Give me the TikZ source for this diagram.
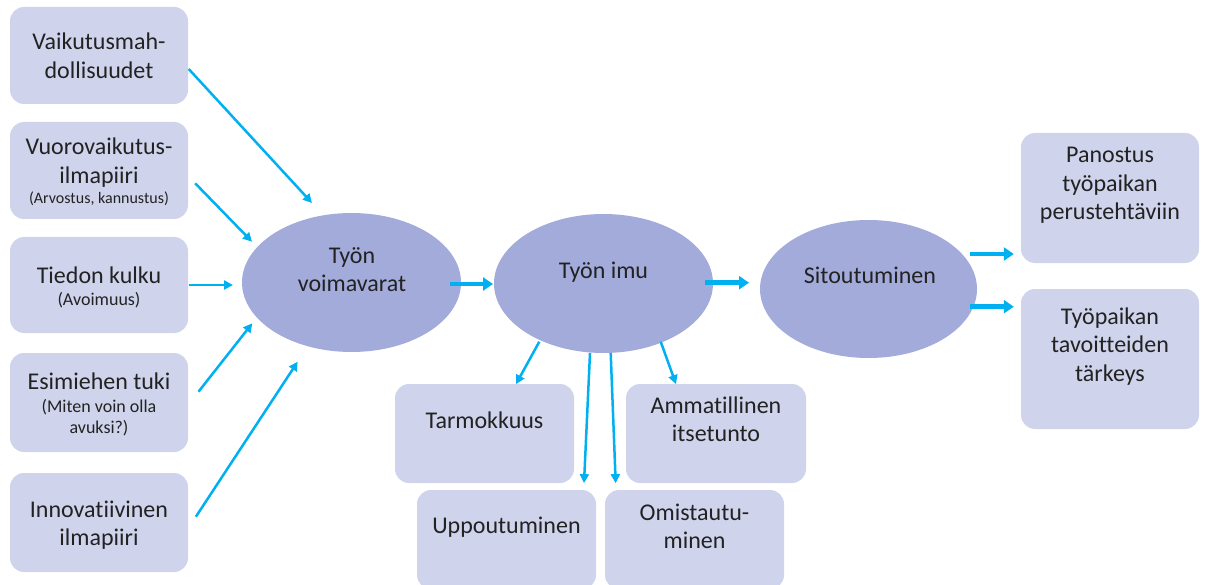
\documentclass[tikz,border=0pt]{standalone}
\usepackage{fontspec}
\setmainfont{Carlito}[Ligatures={NoCommon}]
\usetikzlibrary{arrows.meta,calc,shapes.geometric}

\definecolor{boxfill}{HTML}{CFD4EC}
\definecolor{ovalfill}{HTML}{A3ABDB}
\definecolor{arrowc}{HTML}{00B0F0}
\definecolor{txtc}{HTML}{222222}

\newcommand{\smalltxt}{\fontsize{16}{21}\selectfont}
\newcommand{\notetxt}{\fontsize{18}{22}\selectfont}

\tikzset{
  card/.style={fill=boxfill, draw=none, rounded corners=14pt, inner sep=0pt,
    minimum width=178pt},
  oval/.style={ellipse, fill=ovalfill, draw=none, inner sep=0pt,
    minimum width=219pt, minimum height=139pt},
  label/.style={anchor=base, inner sep=0pt, text=txtc,
    font=\fontsize{24}{28.5}\selectfont},
  thin arrow/.style={draw=arrowc, line width=2.5pt,
    -{Triangle[length=9pt,width=9pt]}},
  thick arrow/.style={draw=arrowc, line width=4.5pt,
    -{Triangle[length=10pt,width=13pt]}},
}

\newcommand{\lines}[1]{\begin{tabular}[t]{@{}c@{}}#1\end{tabular}}

\begin{document}
\begin{tikzpicture}[x=1pt,y=-1pt]
\useasboundingbox (0,0) rectangle (1206,585);

% left column: resources
\node[card, minimum height=97pt] (L1) at (99,55.5) {};
\node[card, minimum height=97pt] (L2) at (99,170.5) {};
\node[card, minimum height=96pt] (L3) at (99,285) {};
\node[card, minimum height=99pt] (L4) at (99,402.5) {};
\node[card, minimum height=99pt] (L5) at (99,522.5) {};

\node[label] (t1) at (99,50) {\lines{Vaikutusmah-\\dollisuudet}};
\node[label] (t2) at (99,155) {\lines{Vuorovaikutus-\\ilmapiiri\\[-8.5pt]{\smalltxt (Arvostus, kannustus)}}};
\node[label] (t3) at (99,283) {\lines{Tiedon kulku\\[-6.5pt]{\notetxt (Avoimuus)}}};
\node[label] (t4) at (99,389) {\lines{Esimiehen tuki\\[-5.5pt]{\notetxt (Miten voin olla}\\[-7.5pt]{\notetxt avuksi?)}}};
\node[label] (t5) at (99,517) {\lines{Innovatiivinen\\ilmapiiri}};

% the three ovals
\node[oval] (E1) at (351.5,282.5) {};
\node[oval] (E2) at (603.5,283.5) {};
\node[oval, minimum width=217pt, minimum height=138pt] (E3) at (868.5,289) {};

\node[label] (e1t) at (352,263) {\lines{Työn\\voimavarat}};
\node[label] (e2t) at (603.5,278) {Työn imu};
\node[label] (e3t) at (870,283) {Sitoutuminen};

% right column: commitment outcomes
\node[card, minimum height=130pt] (R1) at (1110,198) {};
\node[card, minimum height=140pt] (R2) at (1110,359) {};
\node[label] (r1t) at (1110,163) {\lines{Panostus\\työpaikan\\perustehtäviin}};
\node[label] (r2t) at (1110,324) {\lines{Työpaikan\\tavoitteiden\\tärkeys}};

% bottom row: work engagement components
\node[card, minimum width=179pt, minimum height=99pt] (T) at (484.5,433.5) {};
\node[card, minimum width=180pt, minimum height=99pt] (A) at (716,433.5) {};
\node[card, minimum width=179pt, minimum height=99pt] (U) at (506.5,539.5) {};
\node[card, minimum width=179pt, minimum height=99pt] (O) at (694.5,539.5) {};

\node[label] (tt) at (484.5,428) {Tarmokkuus};
\node[label] (at) at (716,413) {\lines{Ammatillinen\\itsetunto}};
\node[label] (ut) at (506.5,533) {Uppoutuminen};
\node[label] (ot) at (694.5,520) {\lines{Omistautu-\\minen}};

% connectors into the first oval
\draw[thin arrow] ($(L1.east)+(0.5,13.5)$) -- ($(E1.center)+(-39.5,-79.5)$);
\draw[thin arrow] ($(L2.east)+(7,12.8)$) -- ($(E1.center)+(-99.5,-40.8)$);
\draw[thin arrow] ($(L3.east)+(0.5,0)$) -- ($(E1.center)+(-118.5,2.5)$);
\draw[thin arrow] ($(L4.east)+(10.3,-10.8)$) -- ($(E1.center)+(-99.2,40.8)$);
\draw[thin arrow] ($(L5.east)+(7.7,-5.8)$) -- ($(E1.center)+(-53.8,79.2)$);

% main chain
\draw[thick arrow] ($(E1.center)+(98.5,1.5)$) -- ($(E2.center)+(-110.5,0.5)$);
\draw[thick arrow] ($(E2.center)+(101.5,-0.8)$) -- ($(E3.center)+(-119.5,-6.3)$);
\draw[thick arrow] ($(E3.center)+(101.5,-35)$) -- ($(R1.west)+(-7,56)$);
\draw[thick arrow] ($(E3.center)+(101.5,17.7)$) -- ($(R2.west)+(-7,-52.3)$);

% engagement components
\draw[thin arrow] ($(E2.center)+(-64.2,58.2)$) -- ($(T.north)+(31.5,0.3)$);
\draw[thin arrow] ($(E2.center)+(-13.5,69.5)$) -- ($(U.north)+(77.5,-6.7)$);
\draw[thin arrow] ($(E2.center)+(7.2,69.5)$) -- ($(O.north)+(-78.8,-6.7)$);
\draw[thin arrow] ($(E2.center)+(57.2,58.2)$) -- ($(A.north)+(-40,0.3)$);
\end{tikzpicture}
\end{document}
